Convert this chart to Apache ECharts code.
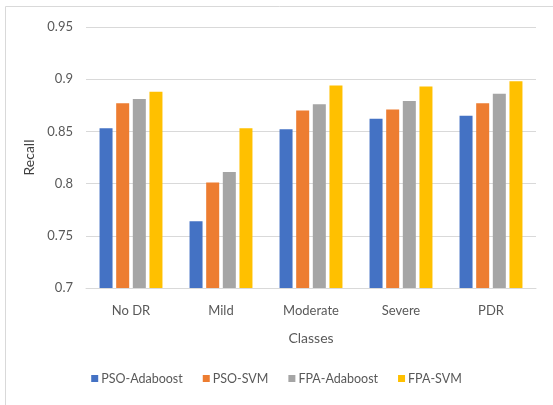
<!DOCTYPE html>
<html><head><meta charset="utf-8">
<script src="https://cdn.jsdelivr.net/npm/echarts@6/dist/echarts.min.js"></script>
<style>html,body{margin:0;padding:0;background:#fff}#c{width:553px;height:405px}</style>
</head><body><div id="c"></div>
<script>
const categories = ['No DR', 'Mild', 'Moderate', 'Severe', 'PDR'];
const seriesNames = ['PSO-Adaboost', 'PSO-SVM', 'FPA-Adaboost', 'FPA-SVM'];
const psoAdaboost = [0.853, 0.764, 0.852, 0.862, 0.865];
const psoSvm = [0.877, 0.801, 0.870, 0.871, 0.877];
const fpaAdaboost = [0.881, 0.811, 0.876, 0.879, 0.886];
const fpaSvm = [0.888, 0.853, 0.894, 0.893, 0.898];
const colors = ['#4472C4', '#ED7D31', '#A5A5A5', '#FFC000'];
const values = [psoAdaboost, psoSvm, fpaAdaboost, fpaSvm];
const font = 'Lato, "Open Sans", sans-serif';
const chart = echarts.init(document.getElementById('c'));
chart.setOption({
  animation: false,
  textStyle: {fontFamily: font},
  graphic: [{type: 'rect', shape: {x: 5.5, y: 6.5, width: 600, height: 500}, style: {fill: 'none', stroke: '#d9d9d9', lineWidth: 1}, silent: true}],
  grid: {left: 86, right: 17, top: 27, bottom: 117, containLabel: false},
  legend: {
    data: seriesNames, bottom: 15, left: 'center', itemWidth: 7, itemHeight: 7, itemGap: 20,
    icon: 'rect', textStyle: {color: '#595959', fontSize: 12.5, fontFamily: font, padding: [0,0,0,-2]}
  },
  xAxis: {
    type: 'category', data: categories,
    name: 'Classes', nameLocation: 'middle', nameGap: 43,
    nameTextStyle: {color: '#595959', fontSize: 14, fontFamily: font},
    axisLine: {lineStyle: {color: '#d9d9d9', width: 1}},
    axisTick: {show: false},
    axisLabel: {color: '#595959', fontSize: 13, margin: 16, fontFamily: font}
  },
  yAxis: {
    type: 'value', min: 0.7, max: 0.95, interval: 0.05,
    name: 'Recall', nameLocation: 'middle', nameGap: 40, nameRotate: 90,
    nameTextStyle: {color: '#404040', fontSize: 14, fontFamily: font},
    axisLine: {show: false}, axisTick: {show: false},
    axisLabel: {color: '#595959', fontSize: 13, margin: 13, fontFamily: font,
      formatter: v => String(parseFloat(v.toFixed(2)))},
    splitLine: {lineStyle: {color: '#d9d9d9', width: 1}}
  },
  series: seriesNames.map((n, i) => ({
    name: n, type: 'bar', data: values[i], barWidth: 13, barGap: '28%', barCategoryGap: '30%',
    itemStyle: {color: colors[i]}
  }))
});
</script></body></html>
